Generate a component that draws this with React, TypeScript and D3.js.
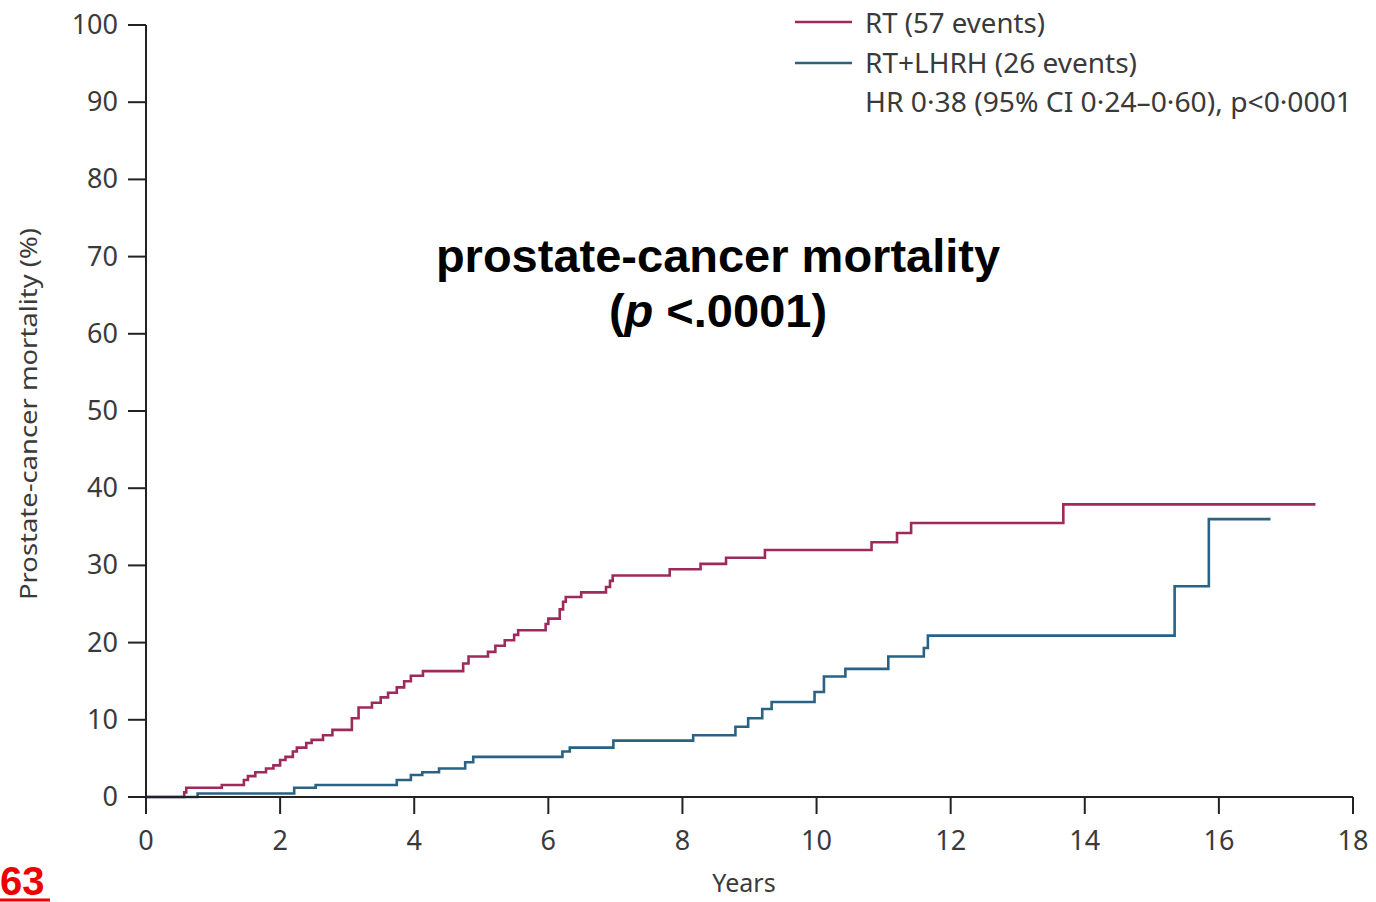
import React from "react";
import * as d3 from "d3";

const rtTimes = [0, 0.57, 0.6, 1.13, 1.46, 1.52, 1.63, 1.79, 1.9, 2.0, 2.08, 2.19, 2.25, 2.39, 2.47, 2.64, 2.78, 3.07, 3.17, 3.37, 3.5, 3.61, 3.74, 3.85, 3.95, 4.13, 4.73, 4.81, 5.1, 5.21, 5.35, 5.49, 5.55, 5.96, 6.0, 6.17, 6.22, 6.26, 6.49, 6.86, 6.92, 6.96, 7.81, 8.27, 8.65, 9.23, 10.82, 11.2, 11.41, 13.68, 17.44];
const rtValues = [0, 0.6, 1.2, 1.55, 2.2, 2.7, 3.2, 3.7, 4.1, 4.8, 5.2, 5.9, 6.4, 7.0, 7.4, 8.0, 8.7, 10.2, 11.6, 12.2, 12.9, 13.5, 14.2, 15.0, 15.7, 16.3, 17.3, 18.2, 18.8, 19.6, 20.3, 21.0, 21.6, 22.4, 23.1, 24.3, 25.3, 25.9, 26.5, 27.2, 28.0, 28.7, 29.5, 30.2, 31.0, 32.0, 33.0, 34.2, 35.5, 37.9, 37.9];

const lhrhTimes = [0, 0.77, 2.21, 2.53, 3.74, 3.95, 4.12, 4.37, 4.76, 4.88, 6.21, 6.32, 6.97, 8.16, 8.79, 8.98, 9.19, 9.33, 9.97, 10.11, 10.43, 11.07, 11.6, 11.66, 15.34, 15.85, 16.77];
const lhrhValues = [0, 0.45, 1.2, 1.55, 2.2, 2.85, 3.2, 3.7, 4.5, 5.2, 5.9, 6.4, 7.3, 8.0, 9.1, 10.2, 11.4, 12.3, 13.6, 15.6, 16.6, 18.2, 19.3, 20.9, 27.3, 36.0, 36.0];

const xTicks = [0, 2, 4, 6, 8, 10, 12, 14, 16, 18];
const yTicks = [0, 10, 20, 30, 40, 50, 60, 70, 80, 90, 100];

const legendLabels = ["RT (57 events)", "RT+LHRH (26 events)", "HR 0·38 (95% CI 0·24–0·60), p<0·0001"];
const RED = "#9e2a5c";
const BLUE = "#2a6284";
const TXT = "#3a3a3a";
const FONT = "'Noto Sans', 'DejaVu Sans', sans-serif";

export default function App() {
  const W = 1376, H = 902;
  const x = d3.scaleLinear().domain([0, 18]).range([146, 1353]);
  const y = d3.scaleLinear().domain([0, 100]).range([797, 25]);
  const line = d3.line<[number, number]>().x(d => x(d[0])).y(d => y(d[1])).curve(d3.curveStepAfter);
  const rt: [number, number][] = rtTimes.map((t, i) => [t, rtValues[i]]);
  const lh: [number, number][] = lhrhTimes.map((t, i) => [t, lhrhValues[i]]);

  return (
    <svg width={W} height={H} style={{ position: "absolute", left: 0, top: 0, background: "#fff" }}>
      {/* lines */}
      <path d={line(rt) || ""} fill="none" stroke={RED} strokeWidth={2.6} />
      <path d={line(lh) || ""} fill="none" stroke={BLUE} strokeWidth={2.6} />

      {/* axes */}
      <line x1={x(0)} x2={x(0)} y1={y(100)} y2={y(0)} stroke="#222" strokeWidth={2} />
      <line x1={x(0)} x2={x(18)} y1={y(0)} y2={y(0)} stroke="#222" strokeWidth={2} />
      {yTicks.map(t => (
        <g key={"y" + t}>
          <line x1={x(0) - 18} x2={x(0)} y1={y(t)} y2={y(t)} stroke="#222" strokeWidth={2} />
          <text x={118} y={y(t) + 9} textAnchor="end" fontFamily={FONT} fontSize={27} fill={TXT}>{t}</text>
        </g>
      ))}
      {xTicks.map(t => (
        <g key={"x" + t}>
          <line x1={x(t)} x2={x(t)} y1={y(0)} y2={y(0) + 17} stroke="#222" strokeWidth={2} />
          <text x={x(t)} y={850} textAnchor="middle" fontFamily={FONT} fontSize={27} fill={TXT}>{t}</text>
        </g>
      ))}
      <text x={744} y={892} textAnchor="middle" fontFamily={FONT} fontSize={25} fill={TXT}>Years</text>
      <text transform="translate(37,414) rotate(-90)" textAnchor="middle" fontFamily={FONT} fontSize={24} fill={TXT}
        textLength={372} lengthAdjust="spacingAndGlyphs">Prostate-cancer mortality (%)</text>

      {/* legend */}
      <line x1={795} x2={852} y1={22} y2={22} stroke={RED} strokeWidth={2.4} />
      <line x1={795} x2={852} y1={63} y2={63} stroke={BLUE} strokeWidth={2.4} />
      <text x={865} y={33} fontFamily={FONT} fontSize={28} fill={TXT} textLength={180} lengthAdjust="spacingAndGlyphs">{legendLabels[0]}</text>
      <text x={865} y={73} fontFamily={FONT} fontSize={28} fill={TXT} textLength={272} lengthAdjust="spacingAndGlyphs">{legendLabels[1]}</text>
      <text x={865} y={112} fontFamily={FONT} fontSize={28} fill={TXT} textLength={487} lengthAdjust="spacingAndGlyphs">{legendLabels[2]}</text>

      {/* title */}
      <text x={718} y={272} textAnchor="middle" fontFamily="'Liberation Sans', Arial, sans-serif" fontWeight="bold" fontSize={47} fill="#000">prostate-cancer mortality</text>
      <text x={718} y={327} textAnchor="middle" fontFamily="'Liberation Sans', Arial, sans-serif" fontWeight="bold" fontSize={47} fill="#000">
        (<tspan fontStyle="italic">p</tspan> &lt;.0001)
      </text>

      {/* page number */}
      <text x={0} y={895} fontFamily="'Liberation Sans', Arial, sans-serif" fontWeight="bold" fontSize={40} fill="#ee0000">63</text>
      <line x1={0} x2={50} y1={900} y2={900} stroke="#ee0000" strokeWidth={3} />
    </svg>
  );
}
